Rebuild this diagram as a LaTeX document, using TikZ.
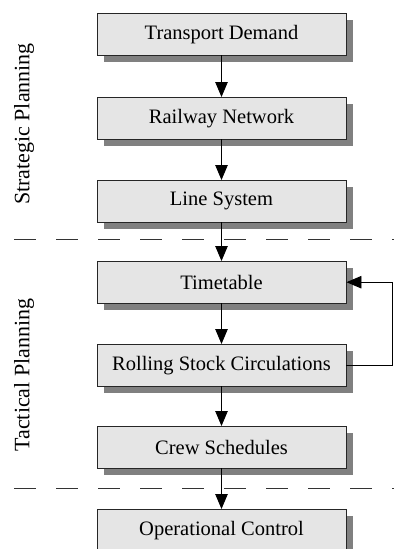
\documentclass[tikz,border=0pt]{standalone}
\usepackage{fontspec}
\setmainfont{Liberation Serif}
\usetikzlibrary{arrows.meta,shadows}

\tikzset{
  stage/.style={draw=black!85, line width=0.9pt, fill=black!10,
    minimum width=249pt, minimum height=41.5pt, anchor=north,
    inner sep=0pt, font=\fontsize{20.5}{24}\selectfont,
    drop shadow={shadow xshift=7pt, shadow yshift=-7pt, fill=black!50, opacity=1}},
  flow/.style={draw=black, line width=0.9pt,
    -{Triangle[length=15pt,width=12.5pt]}},
  phase/.style={rotate=90, font=\fontsize{22}{26}\selectfont},
  divider/.style={draw=black!80, line width=0.9pt, dash pattern=on 22pt off 20pt}
}

\begin{document}
\begin{tikzpicture}[x=1pt,y=-1pt]
\useasboundingbox (0,0) rectangle (394,549);
\clip (0,0) rectangle (394,549);

% planning stages
\node[stage] (demand)  at (221.5,13)  {Transport Demand};
\node[stage] (network) at (221.5,97)  {Railway Network};
\node[stage] (lines)   at (221.5,180) {Line System};
\node[stage] (timet)   at (221.5,261) {Timetable};
\node[stage] (rolling) at (221.5,344) {Rolling Stock Circulations};
\node[stage] (crew)    at (221.5,426) {Crew Schedules};
\node[stage] (control) at (221.5,509) {Operational Control};

% phase separators
\coordinate (d1a) at (14,239);
\coordinate (d1b) at (394,239);
\coordinate (d2a) at (14,488);
\coordinate (d2b) at (394,488);
\draw[divider] (d1a) -- (d1b);
\draw[divider] (d2a) -- (d2b);

% phase labels
\node[phase] (strat) at (24,124) {Strategic Planning};
\node[phase] (tact)  at (24,375) {Tactical Planning};

% sequence of planning steps
\draw[flow] (demand.south)  -- (network.north);
\draw[flow] (network.south) -- (lines.north);
\draw[flow] (lines.south)   -- (timet.north);
\draw[flow] (timet.south)   -- (rolling.north);
\draw[flow] (rolling.south) -- (crew.north);
\draw[flow] (crew.south)    -- (control.north);

% feedback from rolling stock to timetable
\coordinate (fb) at (392,0);
\draw[flow] (rolling.east) -- (rolling.east -| fb) -- (timet.east -| fb) -- (timet.east);
\end{tikzpicture}
\end{document}
